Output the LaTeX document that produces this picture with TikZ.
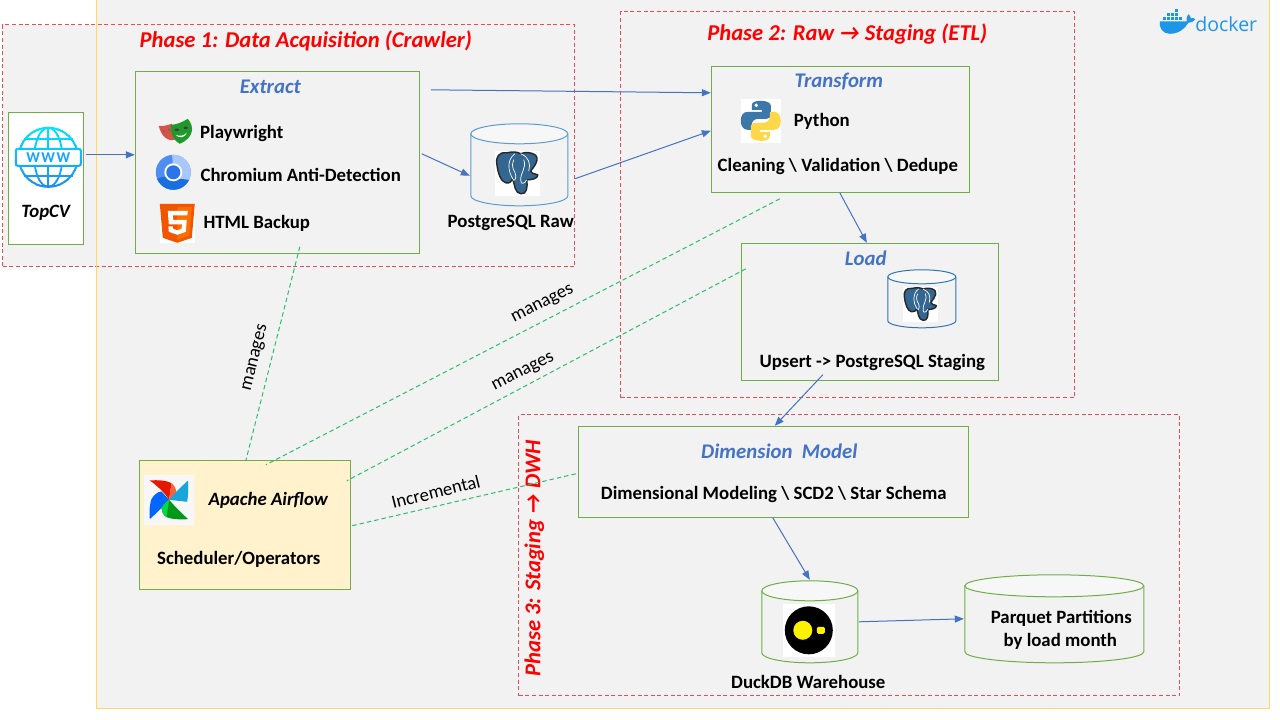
\documentclass[tikz,border=0pt]{standalone}
\usepackage{fontspec}
\setmainfont{Carlito}
\newfontfamily\dockerfont{Open Sans}
\usetikzlibrary{arrows.meta,calc}
\definecolor{panel}{HTML}{F2F2F2}
\definecolor{panelline}{HTML}{FFD966}
\definecolor{phaseline}{HTML}{EE4B55}
\definecolor{boxgreen}{HTML}{70AD47}
\definecolor{flowblue}{HTML}{4472C4}
\definecolor{managegreen}{HTML}{2DBE6C}
\definecolor{cream}{HTML}{FFF2CC}
\definecolor{cylblue}{HTML}{5B9BD5}
\definecolor{cylblueb}{HTML}{2E75B6}
\definecolor{pgblue}{HTML}{336791}
\definecolor{pyblue}{HTML}{3B77A8}
\definecolor{pyyellow}{HTML}{FFD84A}
\definecolor{dockerblue}{HTML}{1D96E8}
\definecolor{globetop}{HTML}{00E5FF}
\definecolor{globebot}{HTML}{1E88F5}
\definecolor{maskred}{HTML}{D65348}
\definecolor{maskgreen}{HTML}{1F9A2A}
\definecolor{chromelight}{HTML}{A8C7FA}
\definecolor{chromemid}{HTML}{4F8DF0}
\definecolor{chromedark}{HTML}{1A6FE0}
\definecolor{chromecore}{HTML}{2B74EA}
\tikzset{
  labelbase/.style={inner sep=0pt,outer sep=0pt,text=black},
  strong/.style={labelbase,yshift=-1.5pt,font=\fontsize{18.8}{22}\selectfont\bfseries},
  strongit/.style={labelbase,yshift=-1pt,font=\fontsize{18.8}{22}\selectfont\bfseries\itshape},
  plain/.style={labelbase,font=\fontsize{18.6}{22}\selectfont},
  phasetitle/.style={labelbase,text=red,font=\fontsize{22.6}{28}\selectfont\bfseries\itshape},
  steptitle/.style={labelbase,text=flowblue,font=\fontsize{20.8}{25}\selectfont\bfseries\itshape},
  phasebox/.style={draw=phaseline,dashed,dash pattern=on 4pt off 2.6pt,line width=.8pt,fill=panel},
  greenbox/.style={draw=boxgreen,line width=1pt},
  flow/.style={draw=flowblue,line width=1pt,-{Triangle[length=9pt,width=7pt]}},
  manage/.style={draw=managegreen,line width=1pt,dashed,dash pattern=on 4.5pt off 3pt},
}
% box from corner to corner, named
\newcommand{\bx}[6]{\node[#6,inner sep=0pt,outer sep=0pt,minimum width={(#4-#2)*1pt},minimum height={(#5-#3)*1pt}] (#1) at ({(#2+#4)/2},{(#3+#5)/2}) {};}
% cylinder: name x1 y1 x2 y2 ry colour
\newcommand{\cyl}[7]{%
  \fill[panel] (#2,#3+#6) -- (#2,#5-#6) arc[x radius={(#4-#2)/2},y radius=#6,start angle=180,end angle=360,] -- (#4,#3+#6) arc[x radius={(#4-#2)/2},y radius=#6,start angle=0,end angle=-180] -- cycle;
  \draw[#7,line width=1pt] (#2,#3+#6) -- (#2,#5-#6) arc[x radius={(#4-#2)/2},y radius=-#6,start angle=180,end angle=360] -- (#4,#3+#6);
  \draw[#7,line width=1pt,fill=panel!60!white] ({(#2+#4)/2},#3+#6) ellipse[x radius={(#4-#2)/2},y radius=#6];
  \node[inner sep=0pt,outer sep=0pt,minimum width={(#4-#2)*1pt},minimum height={(#5-#3)*1pt}] (#1) at ({(#2+#4)/2},{(#3+#5)/2}) {};}
% PostgreSQL elephant in a 45 x 45 white square
\newcommand{\pgicon}[3]{%
  \begin{scope}[shift={(#1,#2)},scale=#3]
    \fill[white] (0,0) rectangle (45,45);
    \draw[black!85,line width=1.4pt,fill=pgblue,line join=round]
      (12,2) .. controls (4,1) and (1,6) .. (2,13) .. controls (3,22) and (6,31) .. (11,32)
      .. controls (15,33) and (17,30) .. (18,28) .. controls (20,35) and (20,42) .. (26,43)
      .. controls (32,44) and (33,36) .. (32,29) .. controls (37,29) and (43,28) .. (43,24)
      .. controls (40,22) and (37,24) .. (36,20) .. controls (42,13) and (46,5) .. (37,2.5)
      .. controls (32,1) and (28,2) .. (26,3) .. controls (22,0.5) and (17,1) .. (12,2) -- cycle;
    \draw[white,line width=.7pt,line cap=round]
      (18,28) .. controls (13,20) and (12,9) .. (20,3)
      (26,3) .. controls (34,6) and (36,13) .. (34,20)
      (19,9) .. controls (15,18) and (21,20) .. (21,25) .. controls (21,29) and (19,31) .. (18,28)
      (29,9) .. controls (32,18) and (25,22) .. (26,30) .. controls (26,34) and (30,33) .. (32,29);
  \end{scope}}
\begin{document}
\begin{tikzpicture}[x=1pt,y=-1pt]
\useasboundingbox (0.2,0.2) rectangle (1280.2,720.2);
% panels
\bx{dockerpanel}{97}{0}{1270}{709}{draw=panelline,line width=1pt,fill=panel}
\bx{phaseone}{3}{25}{575}{267}{phasebox}
\draw[draw=panelline,line width=1pt] (dockerpanel.north west) -- (dockerpanel.south west);
\bx{phasetwo}{621}{12}{1075}{398}{phasebox}
\bx{phasethree}{519}{415}{1180}{696}{phasebox}
% boxes
\bx{topcv}{9}{113}{84}{245}{greenbox,fill=white}
\bx{extract}{136}{72}{420}{254}{greenbox}
\bx{transform}{712}{67}{970}{193}{greenbox}
\bx{load}{742}{244}{999}{381}{greenbox}
\bx{dimension}{579}{427}{969}{518}{greenbox}
\bx{airflow}{140}{461}{351}{590}{greenbox,fill=cream}
% cylinders
\cyl{pgraw}{471}{124}{568}{206}{10}{cylblue}
\cyl{pgstaging}{888}{270}{956}{328}{7}{cylblueb}
\cyl{duckdb}{762}{581}{858}{663}{10}{boxgreen}
\cyl{parquet}{965}{575}{1144}{663}{11}{boxgreen}
% titles
\node[phasetitle] (titleone) at (306,41.5) {Phase 1: Data Acquisition (Crawler)};
\node[phasetitle] (titletwo) at (847.5,34.5) {Phase 2: Raw → Staging (ETL)};
\node[phasetitle,rotate=90] (titlethree) at (534.5,558.5) {Phase 3: Staging → DWH};
\node[steptitle] (extracttitle) at (270.5,87.5) {Extract};
\node[steptitle] (transformtitle) at (839,82) {Transform};
\node[steptitle] (loadtitle) at (866,258.5) {Load};
\node[steptitle] (dimtitle) at (779.5,451.5) {Dimension\ \ Model};
% labels
\node[strongit] (topcvtext) at (46,212) {TopCV};
\node[strong] (playtext) at (242,132) {Playwright};
\node[strong] (chromtext) at (301,174) {Chromium Anti-Detection};
\node[strong] (htmltext) at (257,222) {HTML Backup};
\node[strong] (pgrawtext) at (511,222) {PostgreSQL Raw};
\node[strong] (pytext) at (822,120) {Python};
\node[strong] (cleantext) at (838,165) {Cleaning \textbackslash{} Validation \textbackslash{} Dedupe};
\node[strong] (upserttext) at (872.5,361) {Upsert -> PostgreSQL Staging};
\node[strong] (dimtext) at (774,493) {Dimensional Modeling \textbackslash{} SCD2 \textbackslash{} Star Schema};
\node[strongit] (airtext) at (268.5,500) {Apache Airflow};
\node[strong] (schedtext) at (239,558) {Scheduler/Operators};
\node[strong] (parquettext) at (1061.5,617) {Parquet Partitions};
\node[strong] (monthtext) at (1060.5,640) {by load month};
\node[strong] (ducktext) at (808.5,681) {DuckDB Warehouse};
% connector ends
\coordinate (topcvout) at (86,155);
\coordinate (extractin) at (135,155);
\coordinate (extractouttop) at (431,90);
\coordinate (transformintop) at (711,93);
\coordinate (extractoutpg) at (422,154);
\coordinate (pgrawin) at (470,176);
\coordinate (pgrawout) at (575,179);
\coordinate (transforminpg) at (711,131);
\coordinate (transformout) at (840,193);
\coordinate (loadin) at (867,243);
\coordinate (loadout) at (823,375);
\coordinate (dimin) at (775,426);
\coordinate (dimout) at (773,518);
\coordinate (duckin) at (810,580);
\coordinate (duckout) at (859,622);
\coordinate (parquetin) at (964,619);
\coordinate (mextract) at (300,247);
\coordinate (atop) at (246,461);
\coordinate (mtransform) at (780,199);
\coordinate (atoptwo) at (266,465);
\coordinate (mload) at (746,269);
\coordinate (aright) at (347,481);
\coordinate (mdim) at (576,474);
\coordinate (arightb) at (352,526);
% connectors
\draw[flow] (topcvout) -- (extractin);
\draw[flow] (extractouttop) -- (transformintop);
\draw[flow] (extractoutpg) -- (pgrawin);
\draw[flow] (pgrawout) -- (transforminpg);
\draw[flow] (transformout) -- (loadin);
\draw[flow] (loadout) -- (dimin);
\draw[flow] (dimout) -- (duckin);
\draw[flow] (duckout) -- (parquetin);
\draw[manage] (mextract) -- (atop);
\draw[manage] (mtransform) -- (atoptwo);
\draw[manage] (mload) -- (aright);
\draw[manage] (mdim) -- (arightb);
\node[plain,rotate=76] (mlabelone) at (256,358) {manages};
\node[plain,rotate=27] (mlabeltwo) at (543,305) {manages};
\node[plain,rotate=27] (mlabelthree) at (523.5,373) {manages};
\node[plain,rotate=14] (inclabel) at (436,492) {Incremental};
% globe
\foreach \i in {0,...,12}{
  \pgfmathsetmacro{\p}{100-\i*8}
  \colorlet{gc}{globetop!\p!globebot}
  \begin{scope}
    \clip (10,{126+5*\i}) rectangle (88,{131+5*\i});
    \draw[gc,line width=2pt] (48.5,157.5) circle[radius=29.5];
    \draw[gc,line width=1.8pt] (48.5,157.5) ellipse[x radius=14,y radius=29.5];
    \draw[gc,line width=1.8pt] (48.5,128) -- (48.5,187) (24,139) -- (73,139) (24,176) -- (73,176);
    \draw[gc,line width=2pt,fill=white,rounded corners=2pt] (16,149) rectangle (81,166);
  \end{scope}}
\node[labelbase,text=globebot!70!globetop,font=\fontsize{15}{16}\selectfont\bfseries] (wwwtext) at (48.5,157.5) {W\kern1.5pt W\kern1.5pt W};
% playwright
\fill[maskred] (159,126) .. controls (164,127) and (168,125) .. (172,124) -- (175,140) .. controls (168,142) and (161,136) .. (159,126) -- cycle;
\fill[black!60] (164,131) circle[radius=1.2] (169,130) circle[radius=1.2];
\fill[maskgreen] (171,125) .. controls (177,125) and (183,122) .. (188,119) .. controls (195,127) and (194,138) .. (180,144) .. controls (173,140) and (170,132) .. (171,125) -- cycle;
\fill[black!75] (177,130) ellipse[x radius=2.2,y radius=1.3] (186,128) ellipse[x radius=2.2,y radius=1.3];
\fill[white] (176,135) .. controls (180,137) and (184,136) .. (187,133) .. controls (186,138) and (178,139) .. (176,135) -- cycle;
% chromium
\begin{scope}
  \clip (173.5,172.5) circle[radius=17.5];
  \fill[chromemid] (150,150) rectangle (197,195);
  \fill[chromelight] (172,150) -- (197,150) -- (197,181) -- (181,181) -- (173,165) -- cycle;
  \fill[chromedark] (150,181) -- (164,177) -- (197,181) -- (197,195) -- (150,195) -- cycle;
\end{scope}
\fill[white] (173.5,172.5) circle[radius=9];
\fill[chromecore] (173.5,172.5) circle[radius=7];
% html5
\fill[white] (160,204) rectangle (195,243);
\fill[orange!70!red!95!black] (160,204) -- (195,204) -- (192,238) -- (177.5,243) -- (163,238) -- cycle;
\fill[orange!85!red] (177.5,207) -- (192,207) -- (189.5,236) -- (177.5,240) -- cycle;
\fill[white] (168,211) -- (188,211) -- (187.5,215.5) -- (173,215.5) -- (173.5,220) -- (187,220) -- (186,232) -- (177.5,235) -- (169,232) -- (168.5,226.5) -- (173,226.5) -- (173.3,229) -- (177.5,230.5) -- (181.7,229) -- (182.3,224.5) -- (169,224.5) -- cycle;
% postgres
\pgicon{495}{151}{1}
\pgicon{903}{287}{.78}
% python
\begin{scope}[shift={(741,99)}]
  \fill[white] (0,0) rectangle (40,44);
  \fill[pyblue] (20,2) .. controls (13,2) and (11,4) .. (11,7) -- (11,11) -- (21,11) -- (21,13) -- (7,13) .. controls (2,13) and (0,17) .. (0,22) .. controls (0,28) and (3,31) .. (7,31) -- (11,31) -- (11,26) .. controls (11,22) and (14,20) .. (18,20) -- (26,20) .. controls (29,20) and (30,18) .. (30,16) -- (30,7) .. controls (30,4) and (26,2) .. (20,2) -- cycle;
  \fill[white] (15.5,6.5) circle[radius=1.9];
  \begin{scope}[shift={(40,44)},xscale=-1,yscale=-1]
    \fill[pyyellow] (20,2) .. controls (13,2) and (11,4) .. (11,7) -- (11,11) -- (21,11) -- (21,13) -- (7,13) .. controls (2,13) and (0,17) .. (0,22) .. controls (0,28) and (3,31) .. (7,31) -- (11,31) -- (11,26) .. controls (11,22) and (14,20) .. (18,20) -- (26,20) .. controls (29,20) and (30,18) .. (30,16) -- (30,7) .. controls (30,4) and (26,2) .. (20,2) -- cycle;
    \fill[white] (15.5,6.5) circle[radius=1.9];
  \end{scope}
\end{scope}
% airflow
\begin{scope}[shift={(130,440)},x=.3333pt,y=-.3333pt]
  \fill[black!3] (42,105) rectangle (192,255);
  \fill[red!80!orange!90!black] (60,122) .. controls (85,120) and (110,122) .. (125,130) -- (118,180) .. controls (105,160) and (85,140) .. (60,122) -- cycle;
  \fill[red!55!orange!80!white] (125,130) .. controls (135,138) and (140,150) .. (140,160) -- (118,180) -- cycle;
  \fill[cyan!80!teal] (175,122) .. controls (176,145) and (175,170) .. (172,186) -- (118,180) .. controls (135,160) and (155,140) .. (175,122) -- cycle;
  \fill[blue!60!cyan] (60,238) .. controls (58,215) and (60,190) .. (65,178) .. controls (72,165) and (85,155) .. (95,155) -- (118,180) .. controls (100,200) and (80,220) .. (60,238) -- cycle;
  \fill[green!55!black!90!cyan] (175,238) .. controls (150,240) and (125,238) .. (110,232) .. controls (100,225) and (95,215) .. (95,205) -- (118,180) .. controls (135,200) and (155,220) .. (175,238) -- cycle;
  \fill[green!70!cyan!85!black] (95,205) .. controls (100,195) and (110,185) .. (118,180) -- (110,232) .. controls (100,225) and (95,215) .. (95,205) -- cycle;
\end{scope}
% duckdb
\fill[white] (783,604) rectangle (835,657);
\fill[black] (809,630.5) circle[radius=24];
\fill[yellow] (803,630.5) circle[radius=9.5];
\fill[yellow,rounded corners=1.5pt] (817,627) -- (825,627) -- (825,634) -- (817,634) -- cycle;
% docker
\fill[dockerblue] (1160,21.5) -- (1187,21.5) .. controls (1186,19) and (1187,16.5) .. (1188.5,14.5) .. controls (1190.5,16) and (1191,17) .. (1191,18.5) .. controls (1193,17.5) and (1194.5,18.5) .. (1195.5,19.5) .. controls (1194,22) and (1191,23) .. (1188.5,23) .. controls (1185,29) and (1179,34) .. (1170,34) .. controls (1163,34) and (1159,28) .. (1160,21.5) -- cycle;
\foreach \bxx/\bxy in {1163/17,1167/17,1171/17,1175/17,1179/17,1167/13,1171/13,1175/13,1175/9}
  \fill[dockerblue] (\bxx,\bxy) rectangle ++(3.2,3.2);
\node[labelbase,text=dockerblue,font=\dockerfont\fontsize{19.5}{24}\selectfont] (dockertext) at (1226.5,24.5) {docker};
\end{tikzpicture}
\end{document}
